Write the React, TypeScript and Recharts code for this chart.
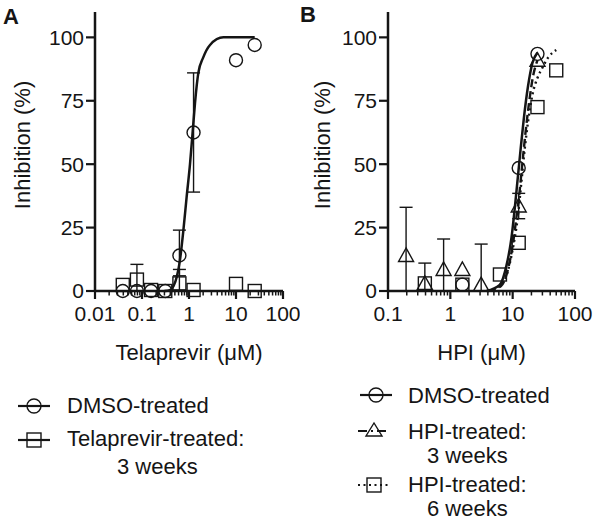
import { ComposedChart, Line, XAxis, YAxis, ErrorBar, Label } from "recharts"

const FONT = "'Liberation Sans', Arial, Helvetica, sans-serif"
const INK = "#151515"

// ---------- panel A: telaprevir ----------
const telaConc = [0.039, 0.078, 0.156, 0.3125, 0.625, 1.25, 10, 25]
const telaDmsoInh = [0, 0, 0, 0, 14, 62.5, 91, 97]
const telaDmsoErr = [null, null, null, null, [8, 10], [23.5, 23.5], null, null]
const telaResInh = [2.4, 4.5, 0.4, 0, 3, 0.4, 2.8, 0]
const telaResErr = [null, [4.5, 6], null, null, [3, 5.5], null, null, null]

// DMSO fit curve
const telaFitConc = [0.3, 0.39, 0.47, 0.55, 0.64, 0.76, 0.89, 1.05, 1.2, 1.34, 1.58, 2.0, 2.8, 5.4, 25]
const telaFitInh = [0, 0.3, 2, 5.6, 12, 24, 37, 50, 63, 74, 86, 92, 97, 100, 100]

// ---------- panel B: HPI ----------
const hpiDmsoConc = [1.56, 12.5, 25]
const hpiDmsoInh = [2.5, 48.5, 93.5]
const hpi3Conc = [0.195, 0.39, 0.78, 1.56, 3.125, 12.5, 25]
const hpi3Inh = [14, 3, 8.5, 8.5, 2.5, 33.5, 91]
const hpi3Err = [[14, 19], [3, 8], [8.5, 12], null, [2.5, 16], [5, 5], null]
const hpi6Conc = [0.39, 1.56, 6.25, 12.5, 25, 50]
const hpi6Inh = [3, 2.5, 6.5, 19, 72.5, 87]

const hpiDmsoFitConc = [3.8, 6.2, 7.95, 9.57, 10.8, 11.9, 13.3, 15.1, 17.7, 20.8, 25]
const hpiDmsoFitInh = [0, 2.4, 10, 21, 32.6, 43, 55, 68, 81, 90, 94]
const hpi3FitConc = [4, 6.5, 8.5, 10, 11.5, 12.5, 14, 16, 18.5, 21, 25]
const hpi3FitInh = [0, 2, 9, 18, 29, 36, 48, 62, 75, 84, 91]
const hpi6FitConc = [4, 6.9, 10.1, 12.2, 13.8, 15.6, 17.7, 21, 25, 30, 37, 50]
const hpi6FitInh = [0, 3, 17, 30, 43, 56, 67, 78, 84, 88, 92, 95]

// ---------- axes ----------
const yTicks = [0, 25, 50, 75, 100]
const majorA = [0.01, 0.1, 1, 10, 100]
const majorB = [0.1, 1, 10, 100]
const minorSteps = [2, 3, 4, 5, 6, 7, 8, 9]
const withMinors = (majors: number[]) => {
  const out: number[] = []
  majors.forEach((m, i) => {
    out.push(m)
    if (i < majors.length - 1) minorSteps.forEach((s) => out.push(+(m * s).toPrecision(3)))
  })
  return out
}

const rows = (xs: number[], ys: number[], errs?: (number[] | null)[]) =>
  xs.map((x, i) => ({ x, y: ys[i], err: errs ? errs[i] : null }))

const TICK_SIZE = 8
const TICK_MARGIN = 7

function LogTick(props: any) {
  const { x, y, payload, majors } = props
  const v = payload.value
  const major = majors.some((m: number) => Math.abs(m - v) < m * 1e-6)
  const y0 = y - TICK_SIZE - TICK_MARGIN
  return (
    <g>
      <line x1={x} x2={x} y1={y0} y2={y0 + (major ? TICK_SIZE : 4.5)} stroke={INK} strokeWidth={major ? 2.2 : 1.5} />
      {major && (
        <text x={x} y={y} dy="0.71em" textAnchor="middle" fontSize={21} fontFamily={FONT} fill={INK}>
          {String(v)}
        </text>
      )}
    </g>
  )
}

const Circle = (p: any) =>
  p.cx == null ? null : <circle key={p.index} cx={p.cx} cy={p.cy} r={6.5} fill="none" stroke={INK} strokeWidth={1.4} />
const Square = (p: any) =>
  p.cx == null ? null : (
    <rect key={p.index} x={p.cx - 6.5} y={p.cy - 6.5} width={13} height={13} fill="none" stroke={INK} strokeWidth={1.4} />
  )
const Triangle = (p: any) =>
  p.cx == null ? null : (
    <polygon
      key={p.index}
      points={`${p.cx},${p.cy - 7.5} ${p.cx - 7.5},${p.cy + 6} ${p.cx + 7.5},${p.cy + 6}`}
      fill="none"
      stroke={INK}
      strokeWidth={1.4}
    />
  )

function Panel(props: {
  left: number
  axisWidth: number
  right: number
  majors: number[]
  domain: [number, number]
  xTitle: string
  children: any
}) {
  const { left, axisWidth, right, majors, domain, xTitle, children } = props
  return (
    <div style={{ position: "absolute", left, top: 0 }}>
      <ComposedChart width={300} height={376} margin={{ top: 12, right, bottom: 16, left: 0 }}>
        <XAxis
          type="number"
          dataKey="x"
          scale="log"
          domain={domain}
          ticks={withMinors(majors)}
          interval={0}
          tickSize={TICK_SIZE}
          tickMargin={TICK_MARGIN}
          tickLine={false}
          tick={<LogTick majors={majors} />}
          axisLine={{ stroke: INK, strokeWidth: 2.5 }}
          height={69}
        >
          <Label value={xTitle} position="insideBottom" offset={0} fontSize={22} fontFamily={FONT} fill={INK} />
        </XAxis>
        <YAxis
          type="number"
          dataKey="y"
          domain={[0, 110]}
          ticks={yTicks}
          interval={0}
          width={axisWidth}
          tickSize={9}
          tickMargin={2}
          tick={{ fontSize: 21, fontFamily: FONT, fill: INK }}
          tickLine={{ stroke: INK, strokeWidth: 2.2 }}
          axisLine={{ stroke: INK, strokeWidth: 2.5 }}
        >
          <Label
            value="Inhibition (%)"
            position="center"
            angle={-90}
            dx={22 - axisWidth / 2}
            dy={-6.5}
            fontSize={22}
            fontFamily={FONT}
            fill={INK}
          />
        </YAxis>
        {children}
      </ComposedChart>
    </div>
  )
}

const errBar = <ErrorBar dataKey="err" direction="y" width={6.5} stroke={INK} strokeWidth={1.4} />

function LegendRow(props: { x: number; y: number; kind: "circle" | "square" | "triangle"; dash?: string }) {
  const { x, y, kind, dash } = props
  const cx = x + 16
  return (
    <g>
      <line x1={x} x2={x + 32} y1={y} y2={y} stroke={INK} strokeWidth={2.2} strokeDasharray={dash} />
      {kind === "circle" && <circle cx={cx} cy={y} r={7} fill="none" stroke={INK} strokeWidth={1.4} />}
      {kind === "square" && <rect x={cx - 7} y={y - 7} width={14} height={14} fill="none" stroke={INK} strokeWidth={1.4} />}
      {kind === "triangle" && (
        <polygon points={`${cx},${y - 8} ${cx - 8},${y + 5} ${cx + 8},${y + 5}`} fill="none" stroke={INK} strokeWidth={1.4} />
      )}
    </g>
  )
}

export default function App() {
  const txt = { fontSize: 22, fontFamily: FONT, fill: INK }
  return (
    <div style={{ position: "absolute", left: 0, top: 0, width: 600, height: 522, background: "#fff", overflow: "hidden" }}>
      <Panel left={0} axisWidth={95} right={17} majors={majorA} domain={[0.01, 100]} xTitle="Telaprevir (μM)">
        <Line data={rows(telaFitConc, telaFitInh)} dataKey="y" type="monotone" stroke={INK} strokeWidth={2.5} dot={false} isAnimationActive={false} />
        <Line data={rows(telaConc, telaResInh, telaResErr)} dataKey="y" stroke="none" dot={Square} isAnimationActive={false}>
          {errBar}
        </Line>
        <Line data={rows(telaConc, telaDmsoInh, telaDmsoErr)} dataKey="y" stroke="none" dot={Circle} isAnimationActive={false}>
          {errBar}
        </Line>
      </Panel>
      <Panel left={300} axisWidth={88} right={25} majors={majorB} domain={[0.1, 100]} xTitle="HPI (μM)">
        <Line data={rows(hpi6FitConc, hpi6FitInh)} dataKey="y" type="monotone" stroke={INK} strokeWidth={2.4} strokeDasharray="2 3.5" dot={false} isAnimationActive={false} />
        <Line data={rows(hpi3FitConc, hpi3FitInh)} dataKey="y" type="monotone" stroke={INK} strokeWidth={2.4} strokeDasharray="8 4" dot={false} isAnimationActive={false} />
        <Line data={rows(hpiDmsoFitConc, hpiDmsoFitInh)} dataKey="y" type="monotone" stroke={INK} strokeWidth={2.5} dot={false} isAnimationActive={false} />
        <Line data={rows(hpi6Conc, hpi6Inh)} dataKey="y" stroke="none" dot={Square} isAnimationActive={false} />
        <Line data={rows(hpi3Conc, hpi3Inh, hpi3Err)} dataKey="y" stroke="none" dot={Triangle} isAnimationActive={false}>
          {errBar}
        </Line>
        <Line data={rows(hpiDmsoConc, hpiDmsoInh)} dataKey="y" stroke="none" dot={Circle} isAnimationActive={false} />
      </Panel>
      <svg width={600} height={522} style={{ position: "absolute", left: 0, top: 0, pointerEvents: "none" }}>
        <text x={3} y={24} fontSize={22} fontWeight="bold" fontFamily={FONT} fill={INK}>A</text>
        <text x={300} y={22} fontSize={22} fontWeight="bold" fontFamily={FONT} fill={INK}>B</text>

        <LegendRow x={18} y={406} kind="circle" />
        <text x={67} y={413} {...txt}>DMSO-treated</text>
        <LegendRow x={18} y={440} kind="square" />
        <text x={67} y={446} {...txt}>Telaprevir-treated:</text>
        <text x={117} y={474} {...txt}>3 weeks</text>

        <LegendRow x={360} y={395} kind="circle" />
        <text x={408} y={403} {...txt}>DMSO-treated</text>
        <LegendRow x={358} y={431} kind="triangle" dash="9 4 2 4" />
        <text x={408} y={439} {...txt}>HPI-treated:</text>
        <text x={427} y={463} {...txt}>3 weeks</text>
        <LegendRow x={358} y={485} kind="square" dash="2 3.5" />
        <text x={408} y={492} {...txt}>HPI-treated:</text>
        <text x={427} y={516} {...txt}>6 weeks</text>
      </svg>
    </div>
  )
}
